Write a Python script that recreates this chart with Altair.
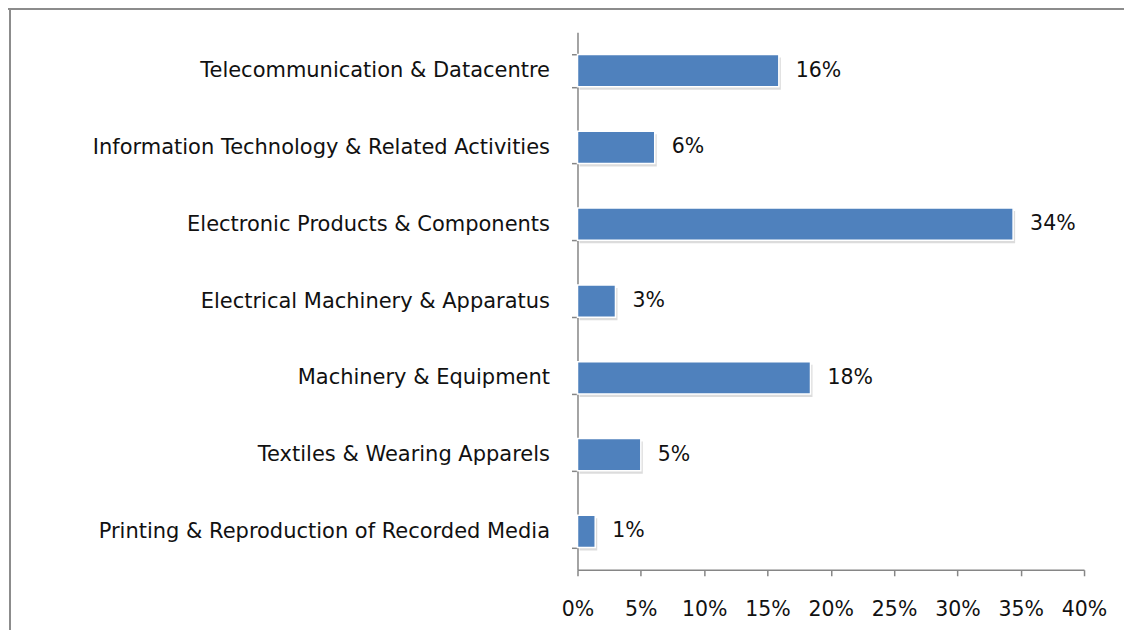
import altair as alt
import pandas as pd

categories = [
    "Telecommunication & Datacentre",
    "Information Technology & Related Activities",
    "Electronic Products & Components",
    "Electrical Machinery & Apparatus",
    "Machinery & Equipment",
    "Textiles & Wearing Apparels",
    "Printing & Reproduction of Recorded Media",
]
values = [15.9, 6.1, 34.4, 3.0, 18.4, 5.0, 1.4]
labels = ["16%", "6%", "34%", "3%", "18%", "5%", "1%"]
x_ticks = [0, 5, 10, 15, 20, 25, 30, 35, 40]

df = pd.DataFrame({"category": categories, "value": values, "label": labels})

FONT = "DejaVu Sans"
FS_CAT = 21
FS_NUM = 20.5

y_enc = alt.Y(
    "category:N",
    sort=categories,
    scale=alt.Scale(paddingInner=0.58, paddingOuter=0.29),
    axis=alt.Axis(
        title=None,
        tickBand="extent",
        tickSize=6,
        tickColor="#868686",
        domainColor="#868686",
        domainWidth=1.5,
        tickWidth=1.5,
        labelPadding=22,
        labelFont=FONT,
        labelFontSize=FS_CAT,
        labelColor="#111111",
        labelLimit=600,
    ),
)
x_enc = alt.X(
    "value:Q",
    scale=alt.Scale(domain=[0, 40], nice=False),
    axis=alt.Axis(
        title=None,
        values=x_ticks,
        labelExpr="datum.value + '%'",
        tickSize=6,
        tickColor="#868686",
        domainColor="#868686",
        domainWidth=1.5,
        tickWidth=1.5,
        grid=False,
        labelPadding=24,
        labelFont=FONT,
        labelFontSize=FS_NUM,
        labelColor="#111111",
        labelFlush=False,
    ),
)

base = alt.Chart(df)

shadow = base.mark_bar(color="#9a9a9a", opacity=0.35, xOffset=2, yOffset=3).encode(
    x=x_enc, y=y_enc
)
bars = base.mark_bar(color="#4F81BD", stroke="white", strokeWidth=1.5).encode(
    x=x_enc, y=y_enc
)
text = base.mark_text(
    align="left", baseline="middle", dx=17, font=FONT, fontSize=FS_NUM, color="#111111"
).encode(x="value:Q", y=alt.Y("category:N", sort=categories), text="label:N")

frame_left = alt.Chart(df).mark_rule(color="#8c8c8c", strokeWidth=1.5).encode(
    x=alt.value(-568), y=alt.value(-23), y2=alt.value(640)
)
frame_top = alt.Chart(df).mark_rule(color="#8c8c8c", strokeWidth=1.5).encode(
    x=alt.value(-575), x2=alt.value(600), y=alt.value(-23)
)

chart = (
    alt.layer(frame_left, frame_top, shadow, bars, text)
    .properties(
        width=507,
        height=538,
        padding={"left": 570, "top": 24, "right": 40, "bottom": 60},
        autosize=alt.AutoSizeParams(type="none"),
        background="white",
    )
    .configure_view(strokeWidth=0, stroke=None)
)

chart.save("out.html", embed_options={"renderer": "svg", "actions": False})
